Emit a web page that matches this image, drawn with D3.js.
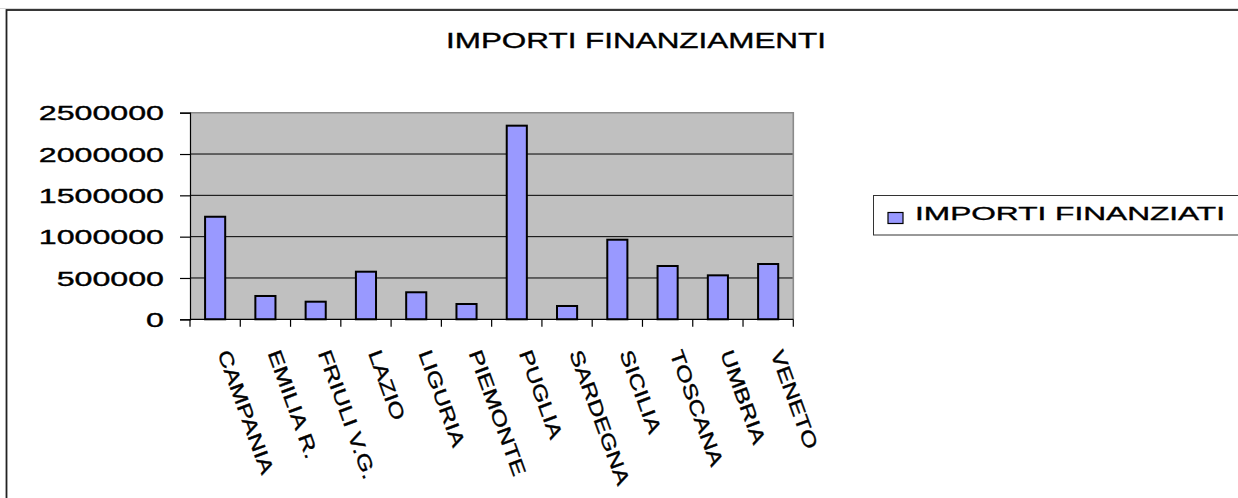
<!DOCTYPE html>
<html>
<head>
<meta charset="utf-8">
<script src="https://cdn.jsdelivr.net/npm/d3@7"></script>
<style>
  html, body { margin: 0; padding: 0; background: #fff; }
  svg { display: block; font-family: "Liberation Sans", Arial, sans-serif; }
  svg text { stroke: #000; stroke-width: 0.35px; }
</style>
</head>
<body>
<svg id="chart" width="1238" height="498"></svg>
<script>
const categories = ["CAMPANIA", "EMILIA R.", "FRIULI V.G.", "LAZIO", "LIGURIA", "PIEMONTE", "PUGLIA", "SARDEGNA", "SICILIA", "TOSCANA", "UMBRIA", "VENETO"];
const values = [1241000, 282000, 213000, 576000, 327000, 185000, 2343000, 161000, 963000, 645000, 532000, 669000];
const yTicks = [0, 500000, 1000000, 1500000, 2000000, 2500000];
const seriesName = "IMPORTI FINANZIATI";
const chartTitle = "IMPORTI FINANZIAMENTI";

const svg = d3.select("#chart");

// outer frame
svg.append("line").attr("x1", 0).attr("x2", 1238).attr("y1", 8.5).attr("y2", 8.5)
  .attr("stroke", "#d8d8d8").attr("stroke-width", 1);
svg.append("rect").attr("x", 6.5).attr("y", 10).attr("width", 1300).attr("height", 600)
  .attr("fill", "none").attr("stroke", "#222").attr("stroke-width", 1.8);

const plot = { left: 190, right: 793.3, top: 112.7, bottom: 319.3 };

const x = d3.scaleBand().domain(categories).range([plot.left, plot.right])
  .paddingInner(0.6).paddingOuter(0.3);
const y = d3.scaleLinear().domain([0, 2500000]).range([plot.bottom, plot.top]);

// plot background
svg.append("rect").attr("x", plot.left).attr("y", plot.top)
  .attr("width", plot.right - plot.left).attr("height", plot.bottom - plot.top)
  .attr("fill", "#c0c0c0");

// gridlines
svg.append("g").selectAll("line").data(yTicks.filter(d => d > 0 && d < 2500000)).join("line")
  .attr("x1", plot.left).attr("x2", plot.right)
  .attr("y1", d => y(d)).attr("y2", d => y(d))
  .attr("stroke", "#000").attr("stroke-width", 1);

// top & right border (gray)
svg.append("path")
  .attr("d", `M${plot.left},${y(2500000)}H${plot.right}V${plot.bottom}`)
  .attr("fill", "none").attr("stroke", "#8a8a8a").attr("stroke-width", 1.6);

// bars
svg.append("g").selectAll("rect").data(values).join("rect")
  .attr("x", (d, i) => x(categories[i]))
  .attr("y", d => y(d))
  .attr("width", x.bandwidth())
  .attr("height", d => y(0) - y(d))
  .attr("fill", "#9999ff").attr("stroke", "#000").attr("stroke-width", 2);

// y axis
const yAxis = svg.append("g").attr("transform", `translate(${plot.left},0)`)
  .call(d3.axisLeft(y).tickValues(yTicks).tickFormat(d3.format("d")).tickSize(10).tickPadding(16));
yAxis.select(".domain").attr("stroke", "#000").attr("stroke-width", 1.2);
yAxis.selectAll(".tick line").attr("stroke", "#000").attr("stroke-width", 1.2);
yAxis.selectAll(".tick text")
  .attr("font-family", "'Liberation Sans', Arial, sans-serif")
  .attr("font-size", 19.5).attr("fill", "#000").attr("dy", "0.36em")
  .each(function () {
    const len = this.getComputedTextLength();
    d3.select(this).attr("textLength", len * 1.65).attr("lengthAdjust", "spacingAndGlyphs");
  });

// x axis: boundaries ticks
const step = x.step();
const boundaries = d3.range(categories.length + 1).map(i => plot.left + i * step);
svg.append("line").attr("x1", plot.left).attr("x2", plot.right)
  .attr("y1", plot.bottom).attr("y2", plot.bottom).attr("stroke", "#000").attr("stroke-width", 1.2);
svg.append("g").selectAll("line").data(boundaries).join("line")
  .attr("x1", d => d).attr("x2", d => d)
  .attr("y1", plot.bottom).attr("y2", plot.bottom + 7.5)
  .attr("stroke", "#000").attr("stroke-width", 1.2);

// category labels, rotated
svg.append("g").selectAll("text").data(categories).join("text")
  .attr("transform", d => `translate(${x(d) + x.bandwidth() / 2 + 2},353) rotate(70)`)
  .attr("font-size", 19.5).attr("fill", "#000")
  .text(d => d)
  .each(function () {
    const len = this.getComputedTextLength();
    d3.select(this).attr("textLength", len * 1.3).attr("lengthAdjust", "spacingAndGlyphs");
  });

// title
svg.append("text").attr("x", 636).attr("y", 48.3).attr("text-anchor", "middle")
  .attr("font-size", 21.5).attr("fill", "#000")
  .attr("textLength", 380).attr("lengthAdjust", "spacingAndGlyphs")
  .text(chartTitle);

// legend
const lg = svg.append("g");
lg.append("rect").attr("x", 873.5).attr("y", 195.5).attr("width", 400).attr("height", 39.5)
  .attr("fill", "#fff").attr("stroke", "#333").attr("stroke-width", 1);
lg.append("rect").attr("x", 888).attr("y", 212.5).attr("width", 15).attr("height", 11)
  .attr("fill", "#9999ff").attr("stroke", "#000").attr("stroke-width", 1.2);
lg.append("text").attr("x", 915).attr("y", 219.5)
  .attr("font-size", 18.7).attr("fill", "#000")
  .attr("textLength", 310).attr("lengthAdjust", "spacingAndGlyphs")
  .text(seriesName);
</script>
</body>
</html>
